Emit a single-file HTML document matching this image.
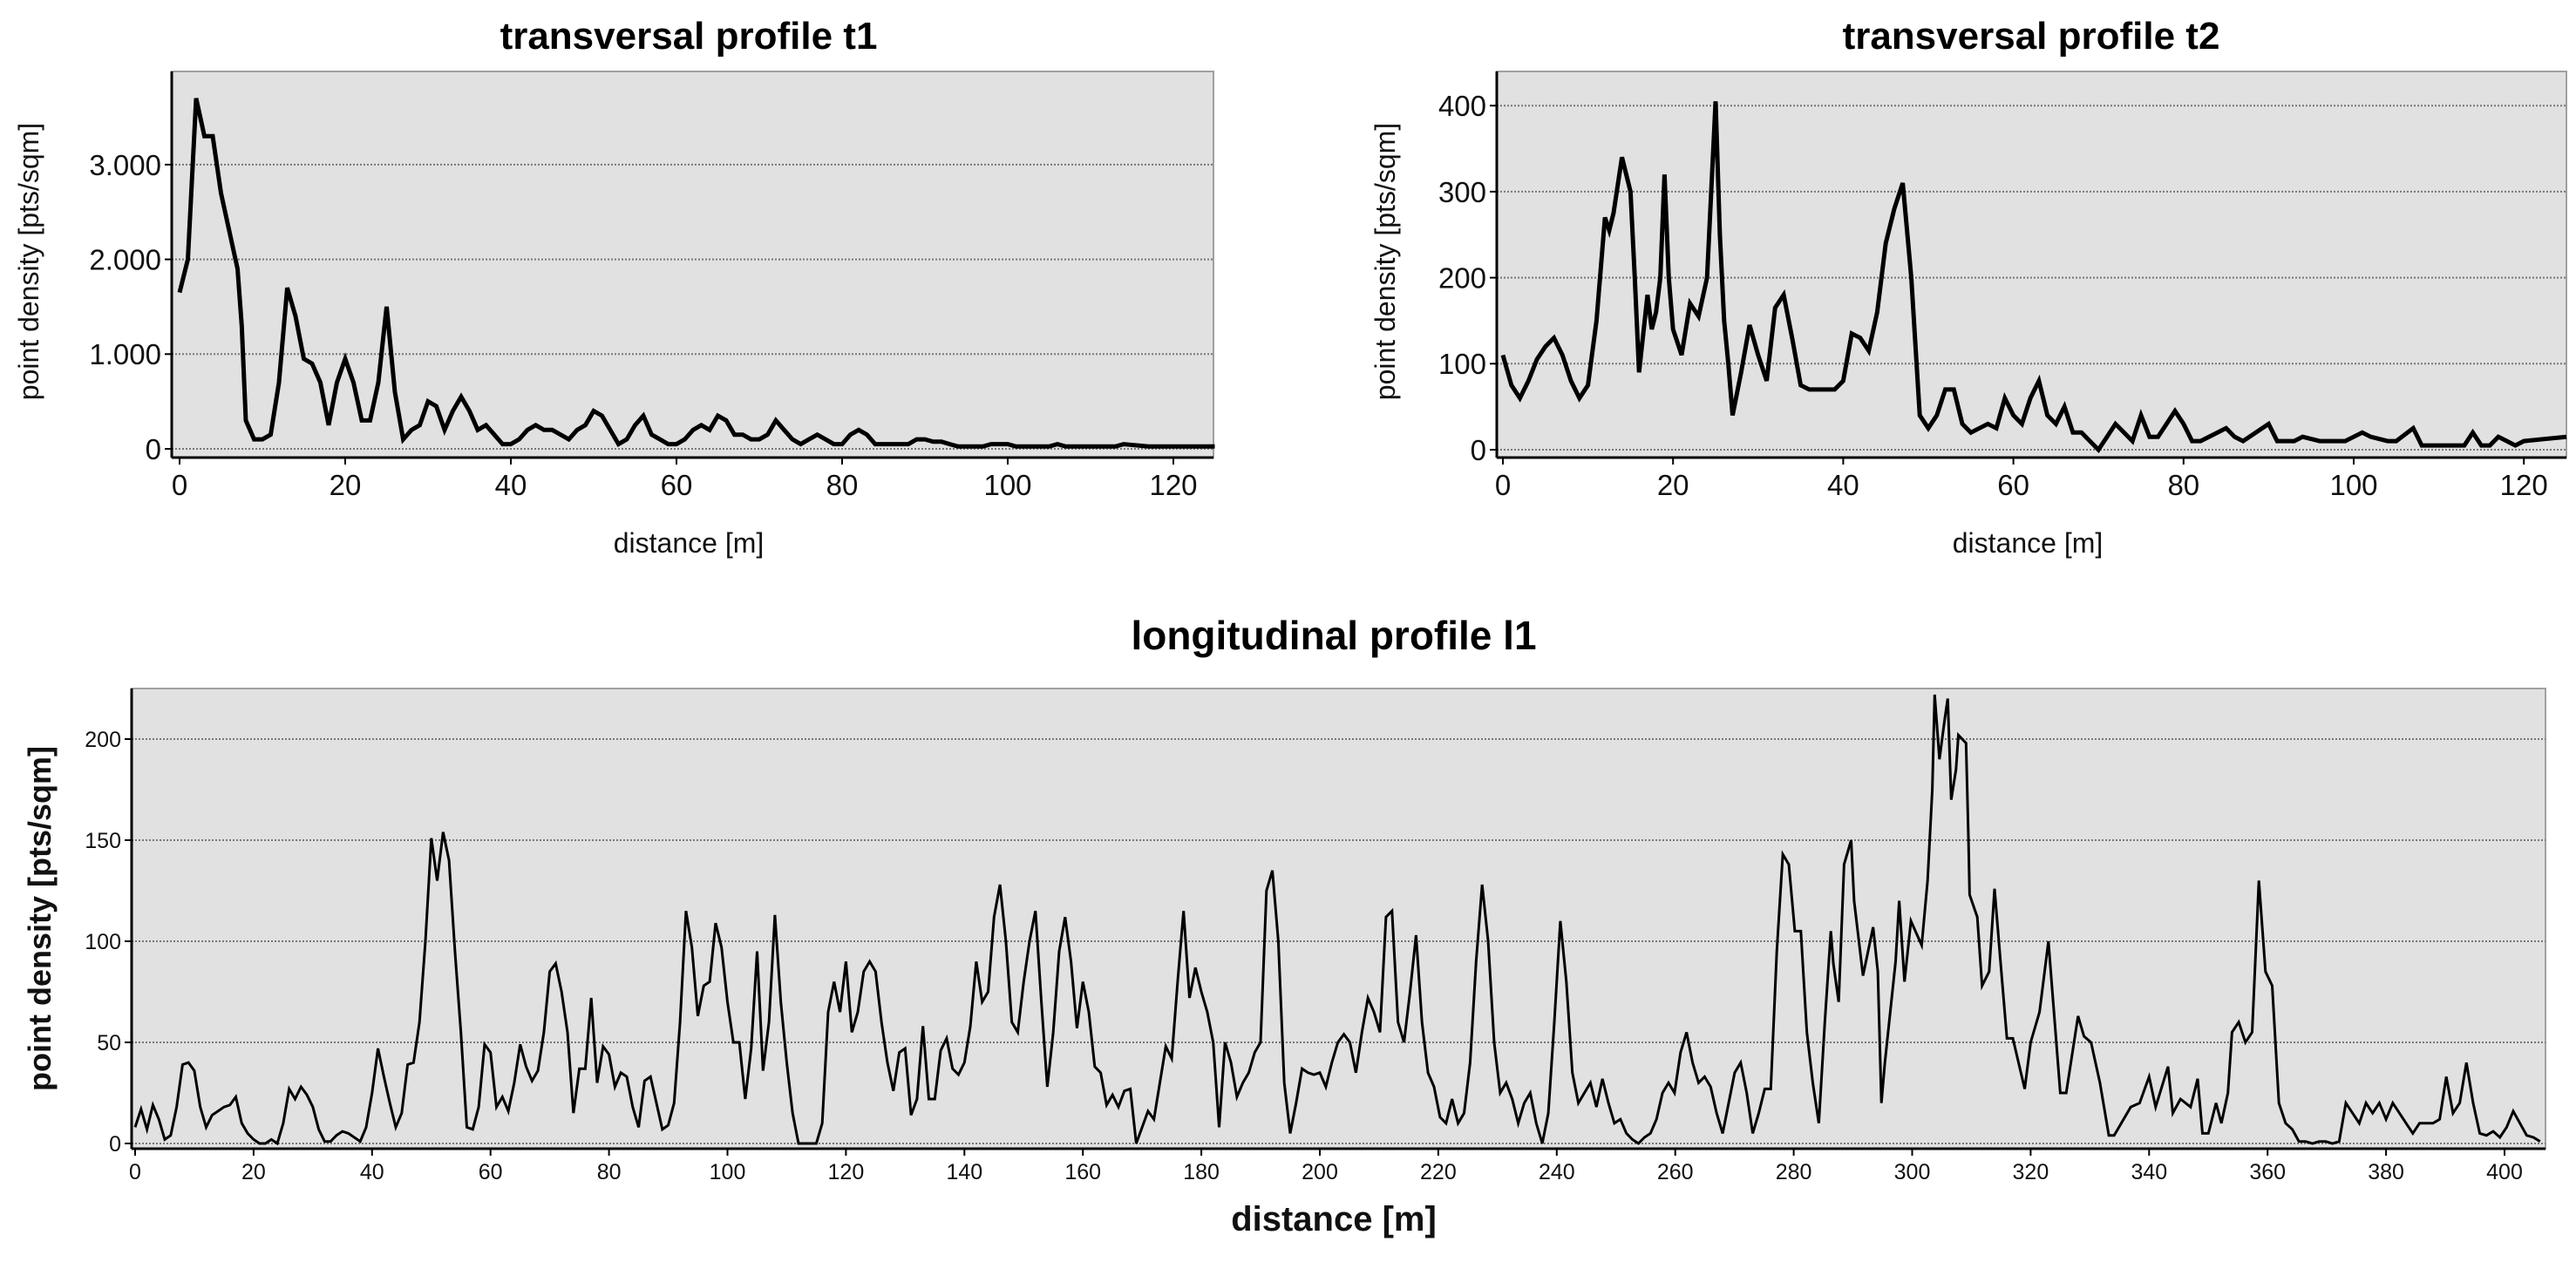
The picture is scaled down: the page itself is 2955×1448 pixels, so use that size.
<!DOCTYPE html>
<html><head><meta charset="utf-8">
<style>
html,body{margin:0;padding:0;background:#fff;}
svg{display:block;font-family:"Liberation Sans",sans-serif;}
</style></head>
<body>
<svg id="svg" width="2955" height="1448" viewBox="0 0 2955 1448" xmlns="http://www.w3.org/2000/svg"></svg>
<script>
// ---- data: transversal profile t1 ----
const t1X = [0,1,2,3,4,5,6,7,7.5,8,9,10,11,12,13,14,15,16,17,18,19,20,21,22,23,24,25,26,27,28,29,30,31,32,33,34,35,36,37,38,39,40,41,42,43,44,45,46,47,48,49,50,51,52,53,54,55,56,57,58,59,60,61,62,63,64,65,66,67,68,69,70,71,72,73,74,75,76,77,78,79,80,81,82,83,84,88,89,90,91,92,93,94,97,98,100,101,105,106,107,113,114,117,118,125];
const t1Y = [1650,2000,3700,3300,3300,2700,2300,1900,1300,300,100,100,150,700,1700,1400,950,900,700,250,700,950,700,300,300,700,1500,600,100,200,250,500,450,200,400,550,400,200,250,150,50,50,100,200,250,200,200,150,100,200,250,400,350,200,50,100,250,350,150,100,50,50,100,200,250,200,350,300,150,150,100,100,150,300,200,100,50,100,150,100,50,50,150,200,150,50,50,100,100,75,75,50,25,25,50,50,25,25,50,25,25,50,25,25,25];
// ---- data: transversal profile t2 ----
const t2X = [0,1,2,3,4,5,6,7,8,9,10,11,12,12.5,13,14,15,15.5,16,17,17.5,18,18.5,19,19.5,20,21,22,23,24,25,25.5,26,26.5,27,28,29,30,31,32,33,34,35,36,39,40,41,42,43,44,45,46,47,48,49,50,51,52,53,54,55,56,57,58,59,60,61,62,63,64,65,66,67,68,69,70,71,72,73,74,75,76,77,78,79,80,81,82,85,86,87,90,91,93,94,96,99,100,101,102,104,105,107,108,113,114,115,116,117,118,119,120,125];
const t2Y = [110,75,60,80,105,120,130,110,80,60,75,150,270,255,275,340,300,200,90,180,140,160,200,320,200,140,110,170,155,200,405,250,150,100,40,90,145,110,80,165,180,130,75,70,70,80,135,130,115,160,240,280,310,200,40,25,40,70,70,30,20,25,30,25,60,40,30,60,80,40,30,50,20,20,10,0,15,30,20,10,40,15,15,30,45,30,10,10,25,15,10,30,10,10,15,10,10,15,20,15,10,10,25,5,5,20,5,5,15,10,5,10,15];
// ---- data: longitudinal profile l1 ----
const l1A = [8,17,7,19,12,2,4,18,39,40,36,18,8,14,16,18,19,23,10,5,2,0,0,2,0,10,27,22,28,24,18,7,1,1,4,6,5,3,1,8,25,47,33,20,8,15,39,40,60,100,151,130,154,140,95,55,8,7,18,49,45,18,23,16,30,49,38,31,36,55,85,89,75,55,15,37,37,72,30,48,44,28,35,33,18,8,31,33,20,7,9,20,60,115,97,63,78,80,109,97,70,50,50,22,47,95,36,60,113,70,40,15,0,0,0,0,10,65,80,65,90,55,65,85,90,85,60,40,26,45,47,14,22,58,22,22,46,52,37,34,40,58,90,70,75,112,128,100,60,55,80,100,115,70,28,55,95,112,90,57,80,65,38,35,19,24,18,26,27,0,8,16,12,30,48,42,80,115,72,87,75,65,50,8,50,40,23,30,35,45,50,125,135,100,30,5,20,37,35,34];
const l1B = [35,28,40,50,54,50,35,55,72,65,55,112,115,60,50,75,103,60,35,28,13,10,22,10,15,40,90,128,100,50,25,30,22,10,20,25,10,0,15,60,110,80,35,20,25,30,18,32,20,10,12,5,2,0,3,5,12,25,30,25,45,55,40,30,33,28,15,5,20,35,40,25,5,15,27,27,95,143,138,105,105,55,30,10,60,105];
const l1CX = [286.7,287.6,288.5,289.7,290.2,291.7,293.4,294.2,294.8,295.4,297.2,297.8,298.7,299.8,301.6,302.6,303.4,303.8,304.6,305.5,306,306.6,307.4,307.8,309.1,309.5,309.7,311,311.8,313,313.9,315,316,317,319,320,321.5,323,325,326,328,329,330.2,331.7,333.2,334.1,336.9,338.4,340,341.1,343.2,344,345.3,347,348.2,349,350,351.3,352.2,353.3];
const l1CY = [89,70,138,150,120,83,107,85,20,40,90,120,80,110,98,130,175,222,190,210,220,170,185,202,198,150,123,112,78,85,126,87,52,52,27,50,65,100,25,25,63,53,50,30,4,4,18,20,33,18,38,15,22,18,32,5,5,20,10,25];
const l1D = [55,60,50,55,130,85,78,20,10,7,1,1,0,1,1,0,1,20,15,10,20,15,20,12,20,15,10,5,10,10,10,12,33,15,20,40,20,5,4,6,3,8,16,10,4,3,1];
const t1Ticks = [0,1000,2000,3000];
const t1TickLabels = ["0","1.000","2.000","3.000"];
const t2Ticks = [0,100,200,300,400];
const xTicksT = [0,20,40,60,80,100,120];
const l1YTicks = [0,50,100,150,200];

const NS="http://www.w3.org/2000/svg";
const svg=document.getElementById('svg');
function el(tag,attrs,parent){const e=document.createElementNS(NS,tag);for(const k in attrs)e.setAttribute(k,attrs[k]);(parent||svg).appendChild(e);return e;}
function txt(s,attrs,parent){const e=el('text',attrs,parent);e.textContent=s;return e;}

function chart(cfg){
  const g=el('g',{});
  
  
  const sx=v=>cfg.x0+(v-cfg.xmin)*cfg.xs;
  const sy=v=>cfg.y0-v*cfg.ys;
  const bg=el('rect',{x:cfg.L,y:cfg.T,width:cfg.R-cfg.L,height:cfg.B-cfg.T,fill:'#e1e1e1',stroke:'#a0a0a0','stroke-width':2},g);
  
  
  cfg.yTicks.forEach((v,i)=>{
    const y=sy(v);
    const gl=el('line',{x1:cfg.L,x2:cfg.R,y1:y,y2:y,stroke:'#777','stroke-width':2,'stroke-dasharray':'2,2'},g);
    
    
    el('line',{x1:cfg.L-8,x2:cfg.L,y1:y,y2:y,stroke:'#000','stroke-width':2},g);
    const t=txt(cfg.yLabels?cfg.yLabels[i]:String(v),{x:cfg.L-12,y:y+cfg.tf*0.36,'text-anchor':'end','font-size':cfg.tf,fill:'#111'},g);
    
    
  });
  cfg.xTicks.forEach(v=>{
    const x=sx(v);
    el('line',{x1:x,x2:x,y1:cfg.B,y2:cfg.B+8,stroke:'#000','stroke-width':2},g);
    const t=txt(String(v),{x:x,y:cfg.B+cfg.tf+10,'text-anchor':'middle','font-size':cfg.tf,fill:'#111'},g);
    
    
  });
  el('line',{x1:cfg.L,x2:cfg.R,y1:cfg.B,y2:cfg.B,stroke:'#000','stroke-width':3},g);
  el('line',{x1:cfg.L,x2:cfg.L,y1:cfg.T,y2:cfg.B,stroke:'#000','stroke-width':3},g);
  let d='';
  cfg.series.forEach(s=>{s.xs.forEach((xv,i)=>{d+=(d?'L':'M')+sx(xv).toFixed(1)+','+sy(s.ys[i]).toFixed(1);});});
  const p=el('path',{d:d,fill:'none',stroke:'#000','stroke-width':cfg.lw,'stroke-linejoin':'miter'},g);
  
  
  const ti=txt(cfg.title,{x:cfg.tx,y:cfg.ty,'text-anchor':'middle','font-size':cfg.titleF,'font-weight':'bold',fill:'#000'},g);
  
  
  const xl=txt('distance [m]',{x:cfg.xlx,y:cfg.xly,'text-anchor':'middle','font-size':cfg.xlf,'font-weight':cfg.axBold?'bold':'normal',fill:'#111'},g);
  
  
  const yl=txt('point density [pts/sqm]',{x:0,y:0,'text-anchor':'middle','font-size':cfg.ylf,'font-weight':cfg.axBold?'bold':'normal',fill:'#111',transform:`translate(${cfg.ylx},${cfg.yly}) rotate(-90)`},g);
  
  
}

chart({name:'chart-t1',L:197,R:1392,T:82,B:525,x0:206,xmin:0,xs:9.5,y0:515,ys:0.1087,
  yTicks:t1Ticks,yLabels:t1TickLabels,xTicks:xTicksT,tf:33,lw:5,
  series:[{xs:t1X,ys:t1Y}],title:'transversal profile t1',tx:790,ty:56,titleF:44,
  xlx:790,xly:634,xlf:32,ylx:44,yly:300,ylf:32});

chart({name:'chart-t2',L:1717,R:2944,T:82,B:525,x0:1724,xmin:0,xs:9.76,y0:516,ys:0.987,
  yTicks:t2Ticks,xTicks:xTicksT,tf:33,lw:5,
  series:[{xs:t2X,ys:t2Y}],title:'transversal profile t2',tx:2330,ty:56,titleF:44,
  xlx:2326,xly:634,xlf:32,ylx:1600,yly:300,ylf:32});

const l1XA=l1A.map((v,i)=>i);
const l1XB=l1B.map((v,i)=>200+i*1.015);
const l1XD=l1D.map((v,i)=>354+i*52/(l1D.length-1));
const l1Ticks=[];for(let v=0;v<=400;v+=20)l1Ticks.push(v);
chart({name:'chart-l1',L:151,R:2920,T:790,B:1318,x0:155,xmin:0,xs:6.795,y0:1312,ys:2.32,
  yTicks:l1YTicks,xTicks:l1Ticks,tf:25,lw:3,
  series:[{xs:l1XA,ys:l1A},{xs:l1XB,ys:l1B},{xs:l1CX,ys:l1CY},{xs:l1XD,ys:l1D}],title:'longitudinal profile l1',tx:1530,ty:745,titleF:46,
  xlx:1530,xly:1412,xlf:40,ylx:58,yly:1054,ylf:36,axBold:true});
</script>
</body></html>
